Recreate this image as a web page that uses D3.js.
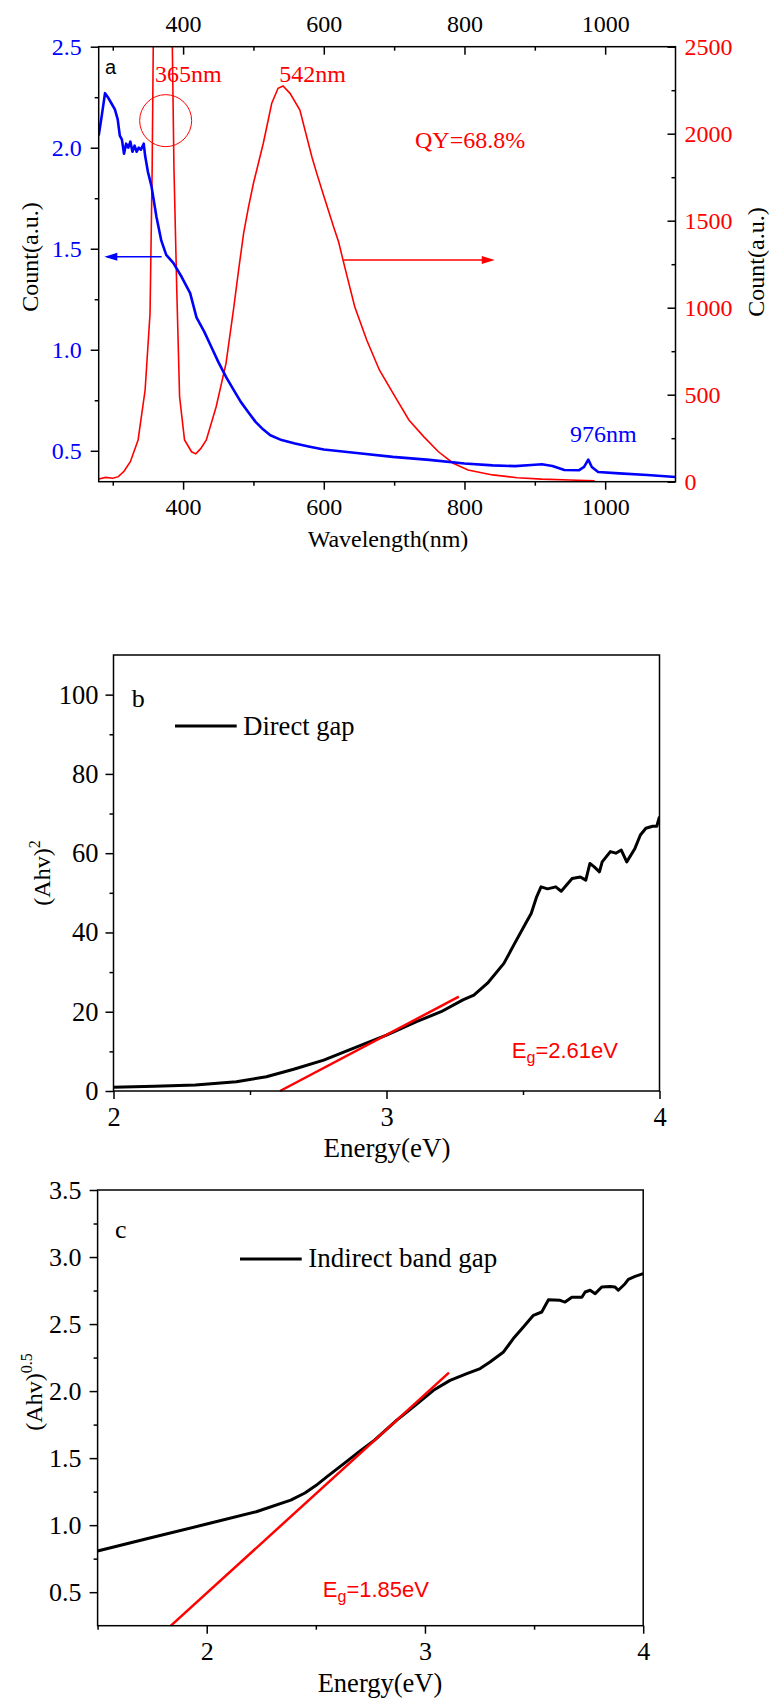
<!DOCTYPE html>
<html>
<head>
<meta charset="utf-8">
<script src="https://cdn.jsdelivr.net/npm/d3@7"></script>
<style>
  body { margin: 0; background: #fff; }
  svg { display: block; }
</style>
</head>
<body>
<div id="chart"></div>
<script>
// panel a : absorption (blue, left axis) and PL (red, right axis)
let absWl  = [280, 284, 289, 293, 298, 303, 307, 310, 313, 316, 319, 322, 325, 328, 331, 334, 337, 340, 344, 346, 350, 355, 362, 369, 376, 386, 398, 410, 419, 430, 440, 450, 461, 472, 482, 493, 503, 514, 524, 540, 559, 580, 600, 650, 698, 750, 800, 840, 872, 895, 910, 925, 942, 963, 970, 976, 981, 990, 1020, 1060, 1100]
let absVal = [2.06, 2.15, 2.27, 2.25, 2.22, 2.19, 2.14, 2.06, 2.04, 1.97, 2.02, 2.00, 2.03, 1.98, 2.01, 1.98, 2.00, 1.99, 2.02, 1.96, 1.88, 1.81, 1.66, 1.54, 1.47, 1.43, 1.36, 1.28, 1.16, 1.09, 1.015, 0.94, 0.866, 0.80, 0.742, 0.69, 0.643, 0.605, 0.577, 0.553, 0.536, 0.52, 0.506, 0.488, 0.47, 0.455, 0.437, 0.428, 0.424, 0.430, 0.433, 0.425, 0.405, 0.404, 0.42, 0.456, 0.42, 0.395, 0.388, 0.38, 0.37]
let plWl  = [280, 290, 300, 308, 316, 325, 336, 346, 353, 356, 358, 384, 387, 391, 395, 402, 412, 418, 425, 433, 447, 461, 472, 479, 486, 493, 500, 514, 526, 535, 542, 552, 566, 583, 590, 599, 614, 621, 630, 644, 661, 679, 700, 721, 742, 763, 784, 805, 840, 875, 910, 950, 985]
let plVal = [15, 25, 20, 29, 60, 115, 240, 527, 968, 1800, 2700, 2700, 1800, 1100, 488, 240, 172, 160, 190, 240, 431, 680, 1000, 1220, 1427, 1580, 1715, 1945, 2175, 2261, 2274, 2232, 2136, 1868, 1772, 1655, 1464, 1379, 1230, 1006, 814, 642, 498, 355, 259, 172, 106, 67, 39, 23, 15, 10, 5]
let wlTicks = [400, 600, 800, 1000]
let absTicks = [0.5, 1.0, 1.5, 2.0, 2.5]
let plTicks = [0, 500, 1000, 1500, 2000, 2500]

// panel b : direct gap
let directE   = [2.0, 2.15, 2.30, 2.45, 2.56, 2.66, 2.77, 2.88, 3.0, 3.11, 3.20, 3.28, 3.32, 3.37, 3.43, 3.47, 3.51, 3.53, 3.55, 3.566, 3.59, 3.62, 3.64, 3.68, 3.71, 3.73, 3.745, 3.76, 3.78, 3.79, 3.82, 3.84, 3.86, 3.88, 3.91, 3.93, 3.95, 3.975, 3.99, 4.0]
let directVal = [0.93, 1.2, 1.5, 2.35, 3.6, 5.5, 7.8, 10.8, 14.1, 17.5, 20.0, 23.0, 24.2, 27.2, 32.2, 37.3, 42.3, 44.8, 49.0, 51.5, 51.0, 51.5, 50.4, 53.6, 54.0, 53.2, 57.4, 56.6, 55.3, 57.8, 60.4, 60.0, 60.8, 57.8, 61.2, 64.6, 66.3, 66.8, 66.8, 69.2]
let directFitE   = [2.61, 3.265]
let directFitVal = [0, 23.8]
let directXTicks = [2, 3, 4]
let directYTicks = [0, 20, 40, 60, 80, 100]

// panel c : indirect band gap
let indirectE   = [1.5, 1.73, 2.0, 2.227, 2.385, 2.45, 2.50, 2.55, 2.633, 2.70, 2.769, 2.871, 2.947, 3.039, 3.115, 3.192, 3.253, 3.298, 3.36, 3.405, 3.451, 3.497, 3.535, 3.566, 3.619, 3.642, 3.673, 3.719, 3.734, 3.757, 3.78, 3.81, 3.848, 3.871, 3.886, 3.917, 3.932, 3.963, 4.0]
let indirectVal = [0.807, 0.90, 1.008, 1.10, 1.187, 1.24, 1.295, 1.36, 1.465, 1.55, 1.634, 1.783, 1.882, 2.006, 2.08, 2.13, 2.168, 2.217, 2.292, 2.392, 2.478, 2.565, 2.59, 2.682, 2.677, 2.664, 2.70, 2.70, 2.739, 2.752, 2.727, 2.776, 2.781, 2.776, 2.752, 2.801, 2.834, 2.856, 2.876]
let indirectFitE   = [1.836, 3.11]
let indirectFitVal = [0.25, 2.138]
let indirectXTicks = [2, 3, 4]
let indirectYTicks = [0.5, 1.0, 1.5, 2.0, 2.5, 3.0, 3.5]

let svg = d3.select('#chart').append('svg')
    .attr('width', 771)
    .attr('height', 1702)

let serif = "'Liberation Serif', 'Times New Roman', serif"
let sans = "'Liberation Sans', Arial, sans-serif"
let fmtInt = d3.format('d')
let fmtDec = d3.format('.1f')

// draw one axis: major ticks with labels + short minor ticks
let drawAxis = (g, axisFn, scale, majors, minors, fmt, pad, fontSize, color, inward) => {
    let s = inward ? -1 : 1
    let major = axisFn(scale).tickValues(majors).tickSize(8 * s).tickSizeOuter(0).tickPadding(pad).tickFormat(fmt)
    let minor = axisFn(scale).tickValues(minors).tickSize(4 * s).tickSizeOuter(0).tickFormat('')
    let gMaj = g.append('g').call(major)
    let gMin = g.append('g').call(minor)
    ;[gMaj, gMin].forEach(a => {
        a.select('.domain').remove()
        a.selectAll('line').attr('stroke', '#000').attr('stroke-width', 1.5)
    })
    gMaj.attr('font-family', serif)
    gMaj.selectAll('text')
        .style('font-family', serif)
        .style('font-size', fontSize + 'px')
        .attr('fill', color)
}

let drawFrame = (g, w, h) => {
    g.append('rect')
        .attr('width', w).attr('height', h)
        .attr('fill', 'none')
        .attr('stroke', '#000')
        .attr('stroke-width', 1.5)
}

let addText = (parent, x, y, txt, font, size, color) =>
    parent.append('text').attr('x', x).attr('y', y)
        .style('font-family', font).style('font-size', size + 'px')
        .attr('fill', color || '#000').text(txt)

// ---------------- panel a ----------------
let a = { left: 98.7, right: 675.5, top: 46.7, bottom: 481.7 }
let ga = svg.append('g').attr('transform', `translate(${a.left},${a.top})`)
let aw = a.right - a.left, ah = a.bottom - a.top
let xa = d3.scaleLinear().domain([280, 1100]).range([0, aw])
let yaL = d3.scaleLinear().domain([0.347, 2.5]).range([ah, 0])
let yaR = d3.scaleLinear().domain([0, 2500]).range([ah, 0])

svg.append('clipPath').attr('id', 'clipA')
    .append('rect').attr('width', aw).attr('height', ah)

ga.append('path')
    .datum(plWl.map((w, i) => [w, plVal[i]]))
    .attr('clip-path', 'url(#clipA)')
    .attr('fill', 'none')
    .attr('stroke', '#ff0000')
    .attr('stroke-width', 1.6)
    .attr('d', d3.line().x(d => xa(d[0])).y(d => yaR(d[1])))

ga.append('path')
    .datum(absWl.map((w, i) => [w, absVal[i]]))
    .attr('clip-path', 'url(#clipA)')
    .attr('fill', 'none')
    .attr('stroke', '#0000ff')
    .attr('stroke-width', 2.6)
    .attr('stroke-linejoin', 'round')
    .attr('d', d3.line().x(d => xa(d[0])).y(d => yaL(d[1])))

drawFrame(ga, aw, ah)
drawAxis(ga.append('g').attr('transform', `translate(0,${ah})`), d3.axisBottom, xa, wlTicks, [300, 500, 700, 900], fmtInt, 8, 24, '#000', false)
drawAxis(ga.append('g'), d3.axisTop, xa, wlTicks, [300, 500, 700, 900], fmtInt, 15, 24, '#000', true)
drawAxis(ga.append('g'), d3.axisLeft, yaL, absTicks, [0.75, 1.25, 1.75, 2.25], fmtDec, 9, 24, '#0000ff', false)
drawAxis(ga.append('g').attr('transform', `translate(${aw},0)`), d3.axisRight, yaR, plTicks, [250, 750, 1250, 1750, 2250], fmtInt, 9, 24, '#ff0000', true)

// arrows, circle and notes for panel a
let arrowHead = (g, x, y, dir, color) => {
    g.append('path')
        .attr('d', `M${x},${y} L${x - dir * 13},${y - 4} L${x - dir * 13},${y + 4} Z`)
        .attr('fill', color)
}
ga.append('line')
    .attr('x1', xa(369.5)).attr('x2', xa(292))
    .attr('y1', yaL(1.46)).attr('y2', yaL(1.46))
    .attr('stroke', '#0000ff').attr('stroke-width', 1.5)
arrowHead(ga, xa(288), yaL(1.46), -1, '#0000ff')
ga.append('line')
    .attr('x1', xa(628)).attr('x2', xa(835))
    .attr('y1', yaR(1274)).attr('y2', yaR(1274))
    .attr('stroke', '#ff0000').attr('stroke-width', 1.5)
arrowHead(ga, xa(843), yaR(1274), 1, '#ff0000')

ga.append('circle')
    .attr('cx', xa(375.2)).attr('cy', yaR(2075)).attr('r', 26)
    .attr('fill', 'none').attr('stroke', '#ff0000').attr('stroke-width', 1)

addText(ga, xa(360), yaR(2299), '365nm', serif, 24, '#ff0000')
addText(ga, xa(536.8), yaR(2299), '542nm', serif, 24, '#ff0000')
addText(ga, xa(729.7), yaR(1916), 'QY=68.8%', serif, 24, '#ff0000')
addText(ga, xa(950), yaL(0.545), '976nm', serif, 24, '#0000ff')
addText(ga, xa(289), yaL(2.366), 'a', sans, 20)

svg.append('text')
    .attr('transform', 'translate(38,257) rotate(-90)')
    .attr('text-anchor', 'middle')
    .style('font-family', serif).style('font-size', '24px')
    .text('Count(a.u.)')
svg.append('text')
    .attr('transform', 'translate(764,262) rotate(-90)')
    .attr('text-anchor', 'middle')
    .style('font-family', serif).style('font-size', '24px')
    .text('Count(a.u.)')
addText(svg, 388, 547, 'Wavelength(nm)', serif, 24).attr('text-anchor', 'middle')

// ---------------- panel b ----------------
let b = { left: 113.5, right: 659.5, top: 655, bottom: 1091 }
let gb = svg.append('g').attr('transform', `translate(${b.left},${b.top})`)
let bw = b.right - b.left, bh = b.bottom - b.top
let xb = d3.scaleLinear().domain([2, 4]).range([0, bw])
let yb = d3.scaleLinear().domain([0, 110]).range([bh, 0])

svg.append('clipPath').attr('id', 'clipB')
    .append('rect').attr('width', bw).attr('height', bh)

gb.append('path')
    .datum(directE.map((e, i) => [e, directVal[i]]))
    .attr('clip-path', 'url(#clipB)')
    .attr('fill', 'none').attr('stroke', '#000').attr('stroke-width', 3)
    .attr('stroke-linejoin', 'round')
    .attr('d', d3.line().x(d => xb(d[0])).y(d => yb(d[1])))
gb.append('path')
    .datum(directFitE.map((e, i) => [e, directFitVal[i]]))
    .attr('fill', 'none').attr('stroke', '#ff0000').attr('stroke-width', 2.5)
    .attr('d', d3.line().x(d => xb(d[0])).y(d => yb(d[1])))

drawFrame(gb, bw, bh)
drawAxis(gb.append('g').attr('transform', `translate(0,${bh})`), d3.axisBottom, xb, directXTicks, [2.5, 3.5], fmtInt, 8, 26.5, '#000', false)
drawAxis(gb.append('g'), d3.axisLeft, yb, directYTicks, [10, 30, 50, 70, 90], fmtInt, 7, 26.5, '#000', false)

// legend + labels b
gb.append('line')
    .attr('x1', 175 - b.left).attr('x2', 236.7 - b.left)
    .attr('y1', 726 - b.top).attr('y2', 726 - b.top)
    .attr('stroke', '#000').attr('stroke-width', 3)
addText(gb, 243.3 - b.left, 735 - b.top, 'Direct gap', serif, 26.5)
addText(gb, 131.7 - b.left, 707.3 - b.top, 'b', serif, 26)

let egB = gb.append('text').attr('x', xb(3.459)).attr('y', yb(8.25))
    .style('font-family', sans).style('font-size', '22px').attr('fill', '#ff0000')
egB.append('tspan').text('E')
egB.append('tspan').attr('dy', 5).style('font-size', '16px').text('g')
egB.append('tspan').attr('dy', -5).text('=2.61eV')

let tb = svg.append('text')
    .attr('transform', 'translate(50,873) rotate(-90)')
    .attr('text-anchor', 'middle')
    .style('font-family', serif).style('font-size', '24px')
tb.append('tspan').text('(Ahv)')
tb.append('tspan').attr('dy', -10).style('font-size', '16px').text('2')
addText(svg, 387, 1157, 'Energy(eV)', serif, 27).attr('text-anchor', 'middle')

// ---------------- panel c ----------------
let c = { left: 97.6, right: 643.2, top: 1190, bottom: 1625.7 }
let gc = svg.append('g').attr('transform', `translate(${c.left},${c.top})`)
let cw = c.right - c.left, ch = c.bottom - c.top
let xc = d3.scaleLinear().domain([1.5, 4]).range([0, cw])
let yc = d3.scaleLinear().domain([0.25, 3.5]).range([ch, 0])

svg.append('clipPath').attr('id', 'clipC')
    .append('rect').attr('width', cw).attr('height', ch)

gc.append('path')
    .datum(indirectE.map((e, i) => [e, indirectVal[i]]))
    .attr('clip-path', 'url(#clipC)')
    .attr('fill', 'none').attr('stroke', '#000').attr('stroke-width', 3)
    .attr('stroke-linejoin', 'round')
    .attr('d', d3.line().x(d => xc(d[0])).y(d => yc(d[1])))
gc.append('path')
    .datum(indirectFitE.map((e, i) => [e, indirectFitVal[i]]))
    .attr('fill', 'none').attr('stroke', '#ff0000').attr('stroke-width', 2.5)
    .attr('d', d3.line().x(d => xc(d[0])).y(d => yc(d[1])))

drawFrame(gc, cw, ch)
drawAxis(gc.append('g').attr('transform', `translate(0,${ch})`), d3.axisBottom, xc, indirectXTicks, [1.5, 2.5, 3.5], fmtInt, 7.5, 26, '#000', false)
drawAxis(gc.append('g'), d3.axisLeft, yc, indirectYTicks, [0.75, 1.25, 1.75, 2.25, 2.75, 3.25], fmtDec, 8, 26, '#000', false)

gc.append('line')
    .attr('x1', 240 - c.left).attr('x2', 301.7 - c.left)
    .attr('y1', 1259 - c.top).attr('y2', 1259 - c.top)
    .attr('stroke', '#000').attr('stroke-width', 3)
addText(gc, 308.3 - c.left, 1267.3 - c.top, 'Indirect band gap', serif, 27)
addText(gc, 115 - c.left, 1238.3 - c.top, 'c', serif, 26)

let egC = gc.append('text').attr('x', xc(2.532)).attr('y', yc(0.464))
    .style('font-family', sans).style('font-size', '22px').attr('fill', '#ff0000')
egC.append('tspan').text('E')
egC.append('tspan').attr('dy', 5).style('font-size', '16px').text('g')
egC.append('tspan').attr('dy', -5).text('=1.85eV')

let tc = svg.append('text')
    .attr('transform', 'translate(42,1392) rotate(-90)')
    .attr('text-anchor', 'middle')
    .style('font-family', serif).style('font-size', '24px')
tc.append('tspan').text('(Ahv)')
tc.append('tspan').attr('dy', -10).style('font-size', '16px').text('0.5')
addText(svg, 380, 1692, 'Energy(eV)', serif, 26.5).attr('text-anchor', 'middle')
</script>
</body>
</html>
